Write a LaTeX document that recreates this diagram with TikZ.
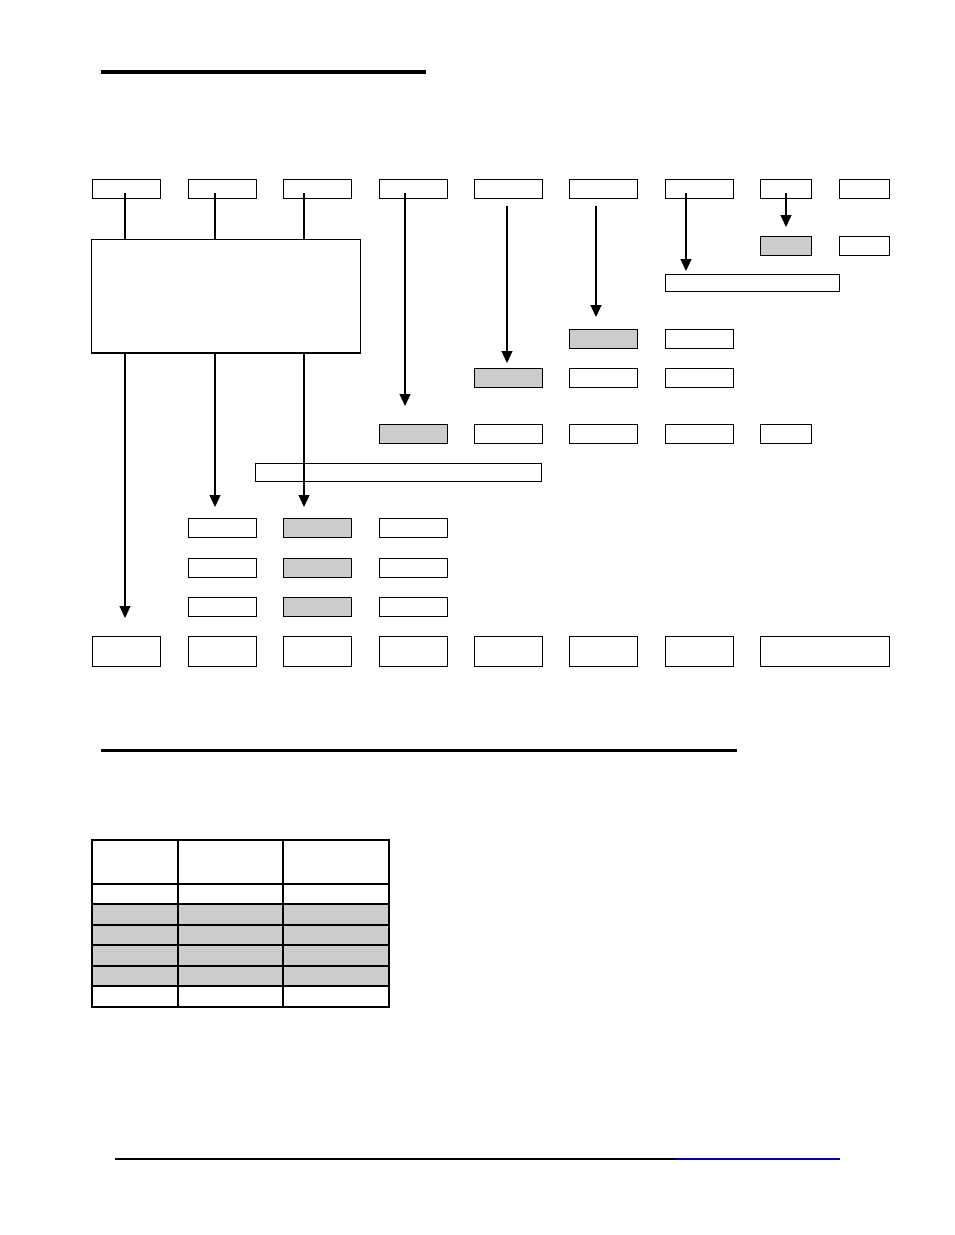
\documentclass[tikz,border=0pt]{standalone}
\usetikzlibrary{arrows.meta}

\tikzset{
  cell/.style={draw, line width=1.1pt, inner sep=0pt, anchor=north west,
    minimum width=68pt, minimum height=19pt},
  greycell/.style={cell, fill=black!20},
  link/.style={line width=1.1pt},
  arr/.style={link, -{Triangle[width=11pt,length=12pt]}},
}

\begin{document}
\begin{tikzpicture}[x=1pt,y=-1pt]
      \useasboundingbox (0,0) rectangle (954,1235);
      % heading rules
      \draw[line width=3.5pt] (101,72) -- (426,72);
      \draw[line width=3pt]   (101,750) -- (737,750);
      \draw[line width=1.2pt] (115,1159) -- (676,1159);
      \draw[line width=1.2pt, blue!70!black] (676,1159) -- (840,1159);

      % top row
      \node[cell] (t1) at (92,179) {};
      \node[cell] (t2) at (188,179) {};
      \node[cell] (t3) at (283,179) {};
      \node[cell] (t4) at (379,179) {};
      \node[cell] (t5) at (474,179) {};
      \node[cell] (t6) at (569,179) {};
      \node[cell] (t7) at (665,179) {};
      \node[cell, minimum width=51pt] (t8) at (760,179) {};
      \node[cell, minimum width=50pt] (t9) at (839,179) {};

      % large box
      \node[cell, minimum width=269pt, minimum height=113pt] (big) at (91,239) {};
      \draw[line width=2pt] (big.south west) -- (big.south east);

      % right side cascade
      \node[greycell, minimum width=51pt] (r1) at (760,236) {};
      \node[cell, minimum width=50pt]     (r2) at (839,236) {};
      \node[cell, minimum width=174pt, minimum height=17pt] (w1) at (665,274) {};
      \node[greycell] (s1) at (569,329) {};
      \node[cell]     (s2) at (665,329) {};
      \node[greycell] (u1) at (474,368) {};
      \node[cell]     (u2) at (569,368) {};
      \node[cell]     (u3) at (665,368) {};
      \node[greycell] (v1) at (379,424) {};
      \node[cell]     (v2) at (474,424) {};
      \node[cell]     (v3) at (569,424) {};
      \node[cell]     (v4) at (665,424) {};
      \node[cell, minimum width=51pt] (v5) at (760,424) {};
      \node[cell, minimum width=286pt, minimum height=18pt] (w2) at (255,463) {};

      % middle block
      \node[cell]     (m1) at (188,518) {};
      \node[greycell] (m2) at (283,518) {};
      \node[cell]     (m3) at (379,518) {};
      \node[cell]     (n1) at (188,558) {};
      \node[greycell] (n2) at (283,558) {};
      \node[cell]     (n3) at (379,558) {};
      \node[cell]     (p1) at (188,597) {};
      \node[greycell] (p2) at (283,597) {};
      \node[cell]     (p3) at (379,597) {};

      % bottom row
      \node[cell, minimum height=30pt] (b1) at (92,636) {};
      \node[cell, minimum height=30pt] (b2) at (188,636) {};
      \node[cell, minimum height=30pt] (b3) at (283,636) {};
      \node[cell, minimum height=30pt] (b4) at (379,636) {};
      \node[cell, minimum height=30pt] (b5) at (474,636) {};
      \node[cell, minimum height=30pt] (b6) at (569,636) {};
      \node[cell, minimum height=30pt] (b7) at (665,636) {};
      \node[cell, minimum width=129pt, minimum height=30pt] (b8) at (760,636) {};

      % connector start points
      \coordinate (a1) at (125,193);
      \coordinate (a2) at (215,193);
      \coordinate (a3) at (304,193);
      \coordinate (a4) at (405,193);
      \coordinate (a5) at (507,206);
      \coordinate (a6) at (596,206);
      \coordinate (a7) at (686,193);
      \coordinate (a8) at (786,193);

      % connectors
      \draw[link] (a1) -- (a1 |- big.north);
      \draw[link] (a2) -- (a2 |- big.north);
      \draw[link] (a3) -- (a3 |- big.north);
      \draw[arr] (a1 |- big.south) -- ([yshift=18pt]a1 |- b1.north);
      \draw[arr] (a2 |- big.south) -- ([yshift=11pt]a2 |- m1.north);
      \draw[arr] (a3 |- big.south) -- ([yshift=11pt]a3 |- m2.north);
      \draw[arr] (a4) -- ([yshift=18pt]a4 |- v1.north);
      \draw[arr] (a5) -- ([yshift=5pt]a5 |- u1.north);
      \draw[arr] (a6) -- ([yshift=12pt]a6 |- s1.north);
      \draw[arr] (a7) -- ([yshift=3pt]a7 |- w1.north);
      \draw[arr] (a8) -- ([yshift=9pt]a8 |- r1.north);

      % table
      \fill[black!20] (92,904) rectangle (389,986);
      \draw[line width=1.1pt] (92,840) rectangle (389,1007);
      \draw[line width=1.1pt] (178,840) -- (178,1007);
      \draw[line width=1.1pt] (283,840) -- (283,1007);
      \foreach \y in {884,904,925,945,966,986}
        \draw[line width=1.1pt] (92,\y) -- (389,\y);
    \end{tikzpicture}
\end{document}
